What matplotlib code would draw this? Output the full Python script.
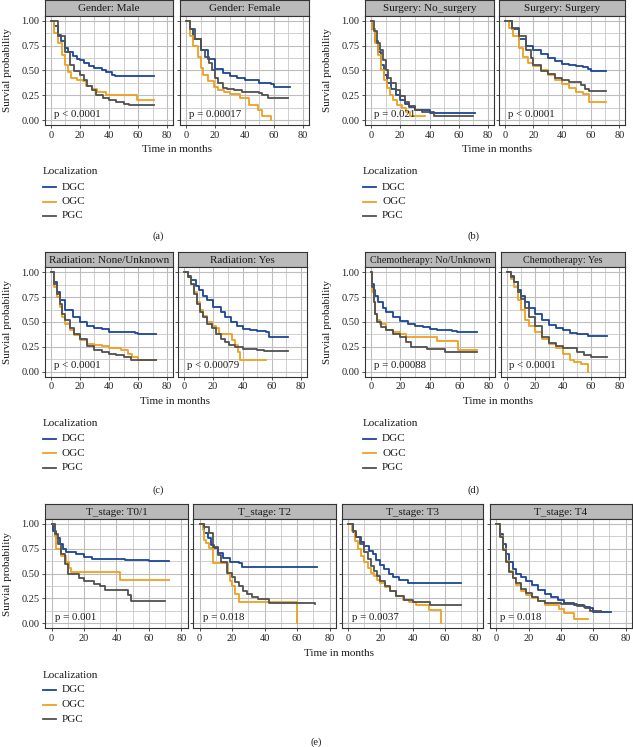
"""
Kaplan-Meier survival by tumour localization (DGC / OGC / PGC),
faceted by gender, surgery, radiation, chemotherapy and T stage
"""

### Import modules
import matplotlib
matplotlib.use('Agg')
import matplotlib.pyplot as plt
from matplotlib.lines import Line2D

### Figure size in pixels
W, H = 633, 747
plt.rcParams['font.family'] = ['Liberation Serif', 'DejaVu Serif']

### Group names and colours
groups = ['DGC', 'OGC', 'PGC']
colors = {'DGC': '#1b4597', 'OGC': '#eea01f', 'PGC': '#505050'}

### Survival curves: (months, survival probability)
male_dgc = [(0, 1.0), (2, 0.95), (5, 0.86), (7, 0.80), (10, 0.72), (12, 0.68), (15, 0.64),
            (18, 0.61), (20, 0.60), (23, 0.57), (26, 0.54), (30, 0.52), (35, 0.50),
            (38, 0.48), (42, 0.45), (44, 0.44), (71, 0.44)]
male_ogc = [(0, 1.0), (2, 0.88), (5, 0.78), (8, 0.65), (10, 0.55), (12, 0.48), (14, 0.42),
            (18, 0.40), (22, 0.39), (24, 0.34), (28, 0.31), (32, 0.28), (38, 0.25),
            (59, 0.20), (71, 0.20)]
male_pgc = [(0, 1.0), (5, 0.85), (10, 0.68), (13, 0.55), (16, 0.49), (20, 0.45), (23, 0.40),
            (25, 0.34), (28, 0.30), (31, 0.25), (36, 0.22), (40, 0.20), (45, 0.18),
            (50, 0.16), (54, 0.15), (71, 0.15)]

female_dgc = [(0, 1.0), (3, 0.92), (5, 0.82), (10, 0.70), (15, 0.61), (20, 0.51), (25, 0.47),
              (30, 0.44), (35, 0.42), (40, 0.40), (50, 0.37), (58, 0.36), (60, 0.33), (71, 0.33)]
female_ogc = [(0, 1.0), (3, 0.85), (5, 0.75), (8, 0.63), (10, 0.52), (12, 0.45), (15, 0.39),
              (19, 0.33), (22, 0.30), (26, 0.28), (30, 0.26), (37, 0.22), (43, 0.15),
              (49, 0.10), (52, 0.04), (58, 0.03), (58, 0.0)]
female_pgc = [(0, 1.0), (3, 0.92), (6, 0.82), (10, 0.70), (13, 0.63), (16, 0.57), (18, 0.50),
              (20, 0.42), (22, 0.37), (25, 0.32), (28, 0.31), (33, 0.30), (38, 0.28),
              (50, 0.27), (52, 0.25), (56, 0.22), (70, 0.22)]

nosurg_dgc = [(0, 1.0), (1, 0.92), (3, 0.80), (5, 0.68), (7, 0.55), (9, 0.45), (11, 0.37),
              (14, 0.31), (17, 0.25), (20, 0.20), (23, 0.16), (26, 0.13), (30, 0.10),
              (40, 0.07), (71, 0.07)]
nosurg_ogc = [(0, 1.0), (1, 0.92), (3, 0.78), (5, 0.65), (7, 0.50), (9, 0.40), (11, 0.32),
              (13, 0.25), (15, 0.20), (18, 0.15), (21, 0.12), (24, 0.08), (27, 0.04), (37, 0.04)]
nosurg_pgc = [(0, 1.0), (2, 0.90), (4, 0.78), (6, 0.70), (8, 0.60), (10, 0.50), (12, 0.42),
              (14, 0.37), (17, 0.30), (20, 0.24), (23, 0.18), (26, 0.14), (30, 0.10),
              (35, 0.08), (43, 0.04), (70, 0.04)]

surg_dgc = [(0, 1.0), (5, 0.92), (10, 0.82), (15, 0.75), (20, 0.70), (25, 0.66), (30, 0.62),
            (35, 0.59), (40, 0.56), (45, 0.55), (50, 0.54), (55, 0.53), (58, 0.51),
            (60, 0.49), (71, 0.49)]
surg_ogc = [(0, 1.0), (3, 0.93), (6, 0.85), (10, 0.72), (13, 0.63), (16, 0.57), (20, 0.54),
            (25, 0.50), (30, 0.45), (35, 0.40), (40, 0.36), (45, 0.32), (50, 0.28),
            (55, 0.26), (59, 0.18), (71, 0.18)]
surg_pgc = [(0, 1.0), (5, 0.93), (10, 0.85), (15, 0.70), (18, 0.62), (20, 0.55), (25, 0.49),
            (30, 0.46), (35, 0.42), (40, 0.40), (45, 0.38), (50, 0.38), (53, 0.35),
            (56, 0.31), (59, 0.29), (71, 0.29)]

norad_dgc = [(0, 1.0), (2, 0.90), (4, 0.80), (6, 0.72), (10, 0.62), (15, 0.55), (20, 0.50),
             (25, 0.46), (30, 0.44), (35, 0.43), (40, 0.40), (58, 0.39), (60, 0.38), (72, 0.38)]
norad_ogc = [(0, 1.0), (2, 0.85), (4, 0.75), (6, 0.65), (8, 0.55), (10, 0.48), (13, 0.42),
             (16, 0.37), (20, 0.32), (25, 0.28), (30, 0.27), (35, 0.26), (40, 0.24),
             (48, 0.22), (53, 0.18), (56, 0.15), (60, 0.12), (72, 0.12)]
norad_pgc = [(0, 1.0), (2, 0.88), (4, 0.78), (6, 0.68), (8, 0.58), (10, 0.52), (13, 0.44),
             (16, 0.38), (20, 0.33), (25, 0.26), (30, 0.22), (35, 0.20), (40, 0.18),
             (45, 0.17), (50, 0.15), (55, 0.12), (72, 0.12)]

rad_dgc = [(0, 1.0), (3, 0.96), (5, 0.92), (8, 0.86), (10, 0.82), (13, 0.76), (16, 0.72),
           (20, 0.65), (25, 0.60), (28, 0.55), (32, 0.50), (36, 0.46), (40, 0.43),
           (45, 0.42), (50, 0.41), (56, 0.40), (58, 0.35), (71, 0.35)]
rad_ogc = [(0, 1.0), (3, 0.95), (5, 0.88), (7, 0.80), (9, 0.70), (11, 0.62), (13, 0.56),
           (16, 0.50), (19, 0.46), (22, 0.44), (24, 0.38), (33, 0.32), (35, 0.27),
           (37, 0.20), (38, 0.12), (56, 0.12)]
rad_pgc = [(0, 1.0), (3, 0.95), (5, 0.88), (7, 0.78), (9, 0.68), (11, 0.60), (13, 0.55),
           (16, 0.48), (19, 0.44), (22, 0.38), (25, 0.33), (28, 0.30), (31, 0.27),
           (35, 0.25), (40, 0.23), (50, 0.22), (55, 0.21), (71, 0.21)]

nochemo_dgc = [(0, 1.0), (1, 0.88), (2, 0.82), (3, 0.76), (5, 0.70), (8, 0.64), (10, 0.60),
               (15, 0.55), (20, 0.51), (25, 0.48), (30, 0.46), (35, 0.45), (40, 0.43),
               (45, 0.42), (55, 0.41), (58, 0.40), (72, 0.40)]
nochemo_ogc = [(0, 1.0), (0.5, 0.90), (1, 0.80), (2, 0.70), (3, 0.58), (4, 0.52), (6, 0.48),
               (10, 0.42), (15, 0.40), (20, 0.38), (24, 0.35), (45, 0.31), (59, 0.22), (72, 0.22)]
nochemo_pgc = [(0, 1.0), (1, 0.85), (2, 0.70), (3, 0.58), (4, 0.50), (7, 0.45), (10, 0.42),
               (15, 0.38), (20, 0.35), (24, 0.30), (27, 0.25), (38, 0.23), (50, 0.20), (72, 0.20)]

chemo_dgc = [(0, 1.0), (3, 0.96), (5, 0.90), (8, 0.82), (10, 0.76), (13, 0.70), (16, 0.64),
             (20, 0.58), (25, 0.52), (30, 0.47), (35, 0.44), (40, 0.42), (45, 0.39),
             (50, 0.38), (58, 0.36), (71, 0.36)]
chemo_ogc = [(0, 1.0), (3, 0.93), (5, 0.85), (8, 0.72), (10, 0.62), (13, 0.52), (16, 0.46),
             (20, 0.40), (25, 0.33), (30, 0.28), (35, 0.24), (40, 0.18), (45, 0.12),
             (48, 0.10), (53, 0.08), (58, 0.08), (58, 0.0)]
chemo_pgc = [(0, 1.0), (3, 0.95), (5, 0.90), (8, 0.80), (10, 0.73), (13, 0.64), (16, 0.55),
             (20, 0.46), (25, 0.35), (30, 0.29), (35, 0.26), (40, 0.24), (50, 0.20),
             (55, 0.17), (60, 0.15), (71, 0.15)]

t01_dgc = [(0, 1.0), (1, 0.93), (3, 0.86), (5, 0.80), (7, 0.75), (9, 0.72), (15, 0.70),
           (20, 0.67), (25, 0.65), (45, 0.64), (60, 0.63), (72, 0.63)]
t01_ogc = [(0, 1.0), (2, 0.88), (3, 0.75), (6, 0.68), (9, 0.62), (11, 0.56), (12, 0.52),
           (42, 0.43), (72, 0.43)]
t01_pgc = [(0, 1.0), (2, 0.90), (4, 0.80), (6, 0.70), (8, 0.60), (10, 0.50), (15, 0.50),
           (17, 0.45), (20, 0.42), (26, 0.39), (30, 0.37), (33, 0.33), (47, 0.28),
           (49, 0.22), (70, 0.22)]

t2_dgc = [(0, 1.0), (3, 0.91), (5, 0.86), (7, 0.79), (9, 0.76), (11.5, 0.71), (14.5, 0.66),
          (19, 0.62), (24, 0.61), (26, 0.57), (72, 0.57)]
t2_ogc = [(0, 1.0), (2, 0.94), (2.5, 0.84), (4, 0.81), (6, 0.76), (8.3, 0.61), (17.7, 0.49),
          (19, 0.42), (20, 0.37), (22, 0.29), (24, 0.21), (60, 0.21), (60, 0.0)]
t2_pgc = [(0, 1.0), (3, 0.97), (6, 0.91), (8, 0.77), (11.5, 0.69), (13.5, 0.62), (16.7, 0.51),
          (20, 0.46), (22, 0.41), (24, 0.37), (27, 0.32), (29, 0.29), (32, 0.26),
          (36, 0.24), (42.5, 0.20), (71, 0.19)]

t3_dgc = [(0, 1.0), (3, 0.92), (5, 0.87), (8, 0.82), (10, 0.78), (13, 0.73), (15.5, 0.70),
          (17, 0.64), (19.5, 0.59), (22, 0.55), (25.5, 0.50), (28, 0.46), (31.5, 0.43),
          (37.5, 0.40), (70, 0.40)]
t3_ogc = [(0, 1.0), (2, 0.93), (4, 0.83), (6, 0.75), (8, 0.68), (10, 0.62), (12, 0.56),
          (14, 0.51), (16, 0.47), (18, 0.43), (20, 0.40), (23, 0.36), (26, 0.32),
          (30, 0.27), (34, 0.23), (38, 0.21), (42, 0.18), (50, 0.13), (58, 0.13), (58, 0.0)]
t3_pgc = [(0, 1.0), (3, 0.93), (5, 0.87), (7, 0.80), (10, 0.72), (12, 0.65), (14, 0.58),
          (16, 0.53), (18, 0.47), (20, 0.42), (23, 0.37), (26, 0.32), (30, 0.27),
          (35, 0.23), (40, 0.21), (51, 0.18), (70, 0.18)]

t4_dgc = [(0, 1.0), (2, 0.90), (4, 0.80), (6, 0.70), (8, 0.62), (10, 0.55), (12, 0.50),
          (15, 0.46), (18, 0.42), (22, 0.38), (26, 0.33), (30, 0.29), (34, 0.26),
          (38, 0.23), (42, 0.20), (48, 0.18), (54, 0.16), (58, 0.15), (60, 0.11), (71, 0.11)]
t4_ogc = [(0, 1.0), (2, 0.88), (4, 0.75), (6, 0.63), (8, 0.53), (10, 0.45), (12, 0.38),
          (15, 0.32), (18, 0.28), (22, 0.25), (26, 0.22), (30, 0.18), (39, 0.14),
          (42, 0.10), (48, 0.04), (57, 0.04)]
t4_pgc = [(0, 1.0), (2, 0.87), (4, 0.74), (6, 0.62), (8, 0.52), (10, 0.45), (12, 0.40),
          (15, 0.34), (18, 0.30), (22, 0.26), (26, 0.22), (30, 0.20), (40, 0.19),
          (50, 0.17), (55, 0.15), (58, 0.12), (65, 0.12)]

### Facet titles and p-values
titles_a = ['Gender: Male', 'Gender: Female']
pvals_a = ['p < 0.0001', 'p = 0.00017']
titles_b = ['Surgery: No_surgery', 'Surgery: Surgery']
pvals_b = ['p = 0.021', 'p < 0.0001']
titles_c = ['Radiation: None/Unknown', 'Radiation: Yes']
pvals_c = ['p < 0.0001', 'p < 0.00079']
titles_d = ['Chemotherapy: No/Unknown', 'Chemotherapy: Yes']
pvals_d = ['p = 0.00088', 'p < 0.0001']
titles_e = ['T_stage: T0/1', 'T_stage: T2', 'T_stage: T3', 'T_stage: T4']
pvals_e = ['p = 0.001', 'p = 0.018', 'p = 0.0037', 'p = 0.018']

xticks = [0, 20, 40, 60, 80]
yticks = [0.0, 0.25, 0.5, 0.75, 1.0]
ylabels = ['0.00', '0.25', '0.50', '0.75', '1.00']

TXT = '#1a1a1a'
fig = plt.figure(figsize=(W / 100, H / 100), dpi=100)

def rect(x0, x1, y0, y1):
    return [x0 / W, 1 - y1 / H, (x1 - x0) / W, (y1 - y0) / H]

def facet(x0, x1, y0, y1, title, curves, pval, first, stripfs):
    ### strip
    st = fig.add_axes(rect(x0, x1, y0 - 15.5, y0))
    st.set_facecolor('#bababa')
    st.set_xticks([])
    st.set_yticks([])
    for sp in st.spines.values():
        sp.set_color('#333333')
        sp.set_linewidth(0.8)
    st.text(0.5, 0.45, title, ha='center', va='center', fontsize=stripfs, color=TXT,
            transform=st.transAxes)
    ### panel
    ax = fig.add_axes(rect(x0, x1, y0, y1))
    ax.set_xlim(-4, 84)
    ax.set_ylim(-0.05, 1.05)
    ax.set_xticks(xticks)
    ax.set_xticks([10, 30, 50, 70], minor=True)
    ax.set_yticks(yticks)
    ax.set_yticks([0.125, 0.375, 0.625, 0.875], minor=True)
    ax.grid(which='major', color='#bdbdbd', lw=0.8)
    ax.grid(which='minor', color='#c8c8c8', lw=0.6)
    ax.set_axisbelow(True)
    for g, pts in zip(groups, curves):
        ax.step([p[0] for p in pts], [p[1] for p in pts], where='post',
                color=colors[g], lw=1.3)
    ax.text(2, 0.06, pval, fontsize=7.8, ha='left', va='center', color=TXT)
    for sp in ax.spines.values():
        sp.set_color('#333333')
        sp.set_linewidth(0.8)
    ax.tick_params(which='major', length=2.5, width=0.6, labelsize=7.5, pad=1.5,
                   colors='#333333', labelcolor='#222222')
    ax.tick_params(which='minor', length=0)
    if first:
        ax.set_yticklabels(ylabels)
    else:
        ax.set_yticklabels([])
    return ax

def legend(x, ybot):
    fig.text(x / W, 1 - (ybot + 47) / H, 'Localization', fontsize=8, va='center',
             ha='left', color=TXT)
    for i, g in enumerate(groups):
        yy = 1 - (ybot + 62 + 14.5 * i) / H
        fig.add_artist(Line2D([x / W, (x + 13) / W], [yy, yy], color=colors[g], lw=1.3))
        fig.text((x + 19) / W, yy, g, fontsize=8, va='center', ha='left', color=TXT)

def panel(xs, y0, y1, titles, curves, pvals, ylx, xlab_x, tag, tag_x, tag_y, stripfs=8):
    for i, (xa, xb) in enumerate(xs):
        facet(xa, xb, y0, y1, titles[i], curves[i], pvals[i], i == 0, stripfs)
    fig.text(ylx / W, 1 - (y0 + y1) / 2 / H, 'Survial probability', rotation=90,
             fontsize=8, ha='center', va='center', color=TXT)
    fig.text(xlab_x / W, 1 - (y1 + 25) / H, 'Time in months', fontsize=8,
             ha='center', va='center', color=TXT)
    legend(xs[0][0] - 2, y1)
    fig.text(tag_x / W, 1 - tag_y / H, tag, fontsize=7.5, ha='center', va='center',
             color=TXT)

### (a) Gender
panel([(45, 173), (180, 309)], 15.7, 125,
      titles_a, [(male_dgc, male_ogc, male_pgc), (female_dgc, female_ogc, female_pgc)],
      pvals_a, 8, 177, '(a)', 158, 236)
### (b) Surgery
panel([(365, 494), (499, 625)], 15.7, 125,
      titles_b, [(nosurg_dgc, nosurg_ogc, nosurg_pgc), (surg_dgc, surg_ogc, surg_pgc)],
      pvals_b, 328, 497, '(b)', 473, 236)
### (c) Radiation
panel([(45, 173), (178, 307)], 267.3, 376.6,
      titles_c, [(norad_dgc, norad_ogc, norad_pgc), (rad_dgc, rad_ogc, rad_pgc)],
      pvals_c, 8, 175, '(c)', 158, 490)
### (d) Chemotherapy
panel([(365, 495), (501, 625)], 267.3, 376.6,
      titles_d, [(nochemo_dgc, nochemo_ogc, nochemo_pgc), (chemo_dgc, chemo_ogc, chemo_pgc)],
      pvals_d, 328, 498, '(d)', 473, 490, stripfs=7.3)
### (e) T stage
panel([(45, 188), (193, 336), (342, 483), (490, 632)], 519, 628,
      titles_e, [(t01_dgc, t01_ogc, t01_pgc), (t2_dgc, t2_ogc, t2_pgc),
                 (t3_dgc, t3_ogc, t3_pgc), (t4_dgc, t4_ogc, t4_pgc)],
      pvals_e, 8, 339, '(e)', 316, 742)

plt.savefig('out.png', dpi=100)
